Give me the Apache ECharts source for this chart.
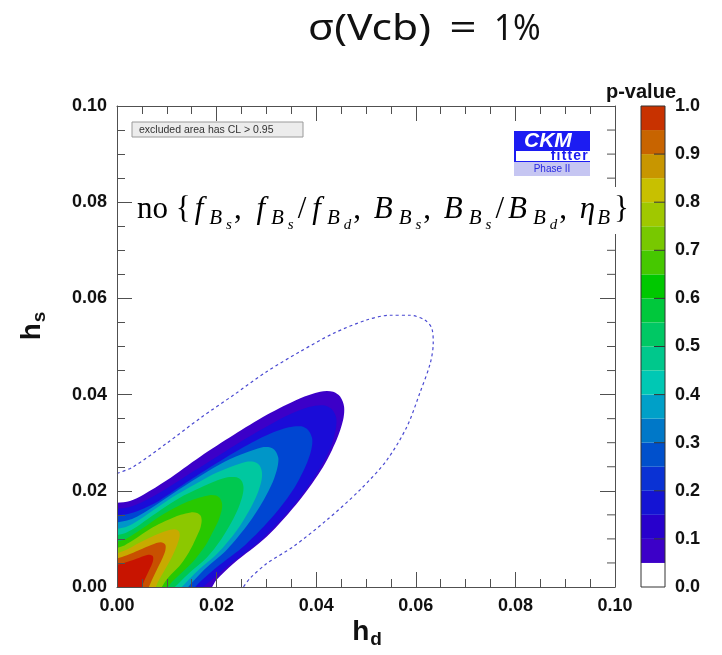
<!DOCTYPE html>
<html>
<head>
<meta charset="utf-8">
<script src="https://cdn.jsdelivr.net/npm/echarts@6/dist/echarts.min.js"></script>
<style>
html,body{margin:0;padding:0;background:#fff;}
#chart{width:722px;height:655px;}
</style>
</head>
<body>
<div id="chart"></div>
<script>
// ---------------- data ----------------
const hdRange = [0, 0.10];
const hsRange = [0, 0.10];
const pRange = [0, 1];
const hsMinorTicks = [0.005,0.010,0.015,0.025,0.030,0.035,0.045,0.050,0.055,0.065,0.070,0.075,0.085,0.090,0.095];
const pTicks = [0.1,0.2,0.3,0.4,0.5,0.6,0.7,0.8,0.9];

// p-value levels of the filled contours (each region is p >= level)
const pLevels = [0.05, 0.10, 0.20, 0.30, 0.40, 0.50, 0.60, 0.70, 0.80, 0.90, 0.95];

// contour boundaries [h_d, h_s], from the left axis round to the bottom axis
const contourP005 = [[0,0.0175],[0.0026,0.0179],[0.0053,0.0192],[0.0100,0.0222],[0.0167,0.0271],[0.0234,0.0316],[0.0301,0.0358],[0.0367,0.0392],[0.0408,0.0406],[0.0434,0.0406],[0.0448,0.0396],[0.0456,0.0375],[0.0454,0.0347],[0.0441,0.0306],[0.0414,0.0250],[0.0367,0.0181],[0.0301,0.0105],[0.0234,0.0049],[0.0200,0.0015],[0.0191,0]];
const contourP010 = [[0,0.0163],[0.0024,0.0166],[0.0050,0.0176],[0.0094,0.0201],[0.0156,0.0242],[0.0219,0.0283],[0.0281,0.0322],[0.0343,0.0357],[0.0385,0.0374],[0.0413,0.0378],[0.0430,0.0371],[0.0440,0.0353],[0.0439,0.0326],[0.0428,0.0288],[0.0401,0.0236],[0.0355,0.0170],[0.0290,0.0099],[0.0225,0.0046],[0.0189,0.0014],[0.0173,0]];
const contourP020 = [[0,0.0149],[0.0022,0.0152],[0.0044,0.0159],[0.0084,0.0179],[0.0139,0.0217],[0.0195,0.0254],[0.0251,0.0289],[0.0306,0.0318],[0.0345,0.0332],[0.0370,0.0334],[0.0384,0.0326],[0.0392,0.0308],[0.0390,0.0285],[0.0379,0.0252],[0.0356,0.0206],[0.0315,0.0149],[0.0258,0.0088],[0.0200,0.0041],[0.0169,0.0013],[0.0157,0]];
const contourP030 = [[0,0.0134],[0.0020,0.0138],[0.0040,0.0146],[0.0076,0.0169],[0.0125,0.0203],[0.0172,0.0234],[0.0217,0.0261],[0.0261,0.0280],[0.0290,0.0290],[0.0308,0.0290],[0.0318,0.0283],[0.0324,0.0268],[0.0322,0.0248],[0.0313,0.0219],[0.0294,0.0180],[0.0264,0.0132],[0.0221,0.0078],[0.0176,0.0037],[0.0152,0.0011],[0.0143,0]];
const contourP040 = [[0,0.0121],[0.0018,0.0125],[0.0036,0.0134],[0.0069,0.0157],[0.0112,0.0187],[0.0154,0.0212],[0.0192,0.0234],[0.0229,0.0250],[0.0258,0.0260],[0.0276,0.0260],[0.0286,0.0253],[0.0291,0.0239],[0.0290,0.0221],[0.0282,0.0194],[0.0265,0.0158],[0.0240,0.0117],[0.0202,0.0070],[0.0161,0.0033],[0.0139,0.0010],[0.0130,0]];
const contourP050 = [[0,0.0108],[0.0016,0.0112],[0.0033,0.0121],[0.0061,0.0141],[0.0099,0.0168],[0.0134,0.0190],[0.0166,0.0206],[0.0197,0.0220],[0.0222,0.0228],[0.0240,0.0228],[0.0250,0.0221],[0.0254,0.0208],[0.0252,0.0190],[0.0244,0.0165],[0.0229,0.0133],[0.0209,0.0099],[0.0180,0.0061],[0.0146,0.0030],[0.0125,0.0009],[0.0116,0]];
const contourP060 = [[0,0.0094],[0.0014,0.0098],[0.0028,0.0106],[0.0053,0.0123],[0.0085,0.0146],[0.0115,0.0164],[0.0141,0.0177],[0.0166,0.0186],[0.0186,0.0191],[0.0199,0.0190],[0.0207,0.0184],[0.0211,0.0173],[0.0210,0.0159],[0.0204,0.0139],[0.0192,0.0114],[0.0178,0.0087],[0.0153,0.0053],[0.0126,0.0026],[0.0108,0.0008],[0.0102,0]];
const contourP070 = [[0,0.0081],[0.0012,0.0085],[0.0024,0.0092],[0.0045,0.0106],[0.0072,0.0124],[0.0097,0.0137],[0.0128,0.0150],[0.0148,0.0155],[0.0161,0.0154],[0.0168,0.0148],[0.0170,0.0138],[0.0168,0.0125],[0.0162,0.0109],[0.0153,0.0089],[0.0142,0.0068],[0.0125,0.0043],[0.0104,0.0021],[0.0094,0.0007],[0.0090,0]];
const contourP080 = [[0,0.0070],[0.0020,0.0078],[0.0045,0.0092],[0.0075,0.0107],[0.0100,0.0117],[0.0115,0.0120],[0.0124,0.0116],[0.0126,0.0106],[0.0121,0.0088],[0.0110,0.0062],[0.0095,0.0034],[0.0083,0.0012],[0.0078,0]];
const contourP090 = [[0,0.0059],[0.0020,0.0066],[0.0045,0.0077],[0.0070,0.0088],[0.0088,0.0093],[0.0097,0.0088],[0.0097,0.0076],[0.0090,0.0057],[0.0079,0.0034],[0.0069,0.0012],[0.0064,0]];
const contourP095 = [[0,0.0046],[0.0020,0.0052],[0.0045,0.0061],[0.0063,0.0067],[0.0072,0.0064],[0.0072,0.0053],[0.0065,0.0036],[0.0056,0.0016],[0.0050,0]];

// dashed contour
const dashedContour = [[0,0.0236],[0.0033,0.0250],[0.0100,0.0299],[0.0167,0.0351],[0.0234,0.0399],[0.0301,0.0448],[0.0367,0.0489],[0.0434,0.0527],[0.0501,0.0555],[0.0548,0.0565],[0.0588,0.0565],[0.0618,0.0555],[0.0632,0.0538],[0.0635,0.0507],[0.0629,0.0465],[0.0608,0.0403],[0.0582,0.0333],[0.0542,0.0264],[0.0488,0.0202],[0.0421,0.0139],[0.0354,0.0084],[0.0301,0.0049],[0.0267,0.0018],[0.0254,0]];

// colour-bar band edges
const cbEdges = [0,0.05,0.10,0.15,0.20,0.25,0.30,0.35,0.40,0.45,0.50,0.55,0.60,0.65,0.70,0.75,0.80,0.85,0.90,0.95,1.00];

// ---------------- styles ----------------
const bandColors = ['#3c00c8','#1a0cd8','#0046d2','#0096c8','#00c8a0','#00c850','#28c800','#8cc800','#c8aa00','#c85000','#c81400'];
const cbColors = ['#ffffff','#3c00c8','#2800cc','#1414d4','#0a32d4','#0050cc','#0078c8','#00a0c8','#00c8b4','#00c88c','#00c864','#00c83c','#00c800','#46c800','#78c800','#a0c800','#c8c000','#c89600','#c86400','#c83200'];

const contours = [contourP005, contourP010, contourP020, contourP030, contourP040, contourP050, contourP060, contourP070, contourP080, contourP090, contourP095];

const axisColor = '#505050';
const labelFont = {fontFamily:'Liberation Sans', fontWeight:'bold', fontSize:18, color:'#111'};

function mkAxis(kind, pos, interval, tickLen, showLine, showLabel){
  const range = kind === 'x' ? hdRange : hsRange;
  return {
    gridIndex:0, type:'value', min:range[0], max:range[1], interval:interval, position:pos, z:5,
    axisLine:{show:showLine, onZero:false, lineStyle:{color:axisColor, width:1}},
    axisTick:{show:true, inside:true, length:tickLen, lineStyle:{color:axisColor, width:1}},
    splitLine:{show:false},
    axisLabel: showLabel ? Object.assign({show:true, margin:10, showMinLabel:true, showMaxLabel:true, formatter:v=>v.toFixed(2)}, labelFont) : {show:false}
  };
}

const chart = echarts.init(document.getElementById('chart'), null, {renderer:'canvas'});

const serif = 'Liberation Serif';
const mathRich = {
  rm:{fontFamily:serif, fontSize:31, fill:'#000'},
  cm:{fontFamily:serif, fontSize:31, fill:'#000', padding:[0,3,0,0]},
  sl:{fontFamily:serif, fontSize:31, fill:'#000', padding:[0,2,0,2]},
  fi:{fontFamily:serif, fontStyle:'italic', fontSize:31, fill:'#000', padding:[0,6,0,4]},
  bi:{fontFamily:serif, fontStyle:'italic', fontSize:31, fill:'#000', padding:[0,6,0,2]},
  eta:{fontFamily:serif, fontStyle:'italic', fontSize:31, fill:'#000', padding:[0,2,0,2]},
  sub:{fontFamily:serif, fontStyle:'italic', fontSize:21, fill:'#000', padding:[16,4,0,0]},
  ss:{fontFamily:serif, fontStyle:'italic', fontSize:15, fill:'#000', padding:[30,2,0,0]}
};
const fBs = '{fi|f}{sub|B}{ss|s}';
const fBd = '{fi|f}{sub|B}{ss|d}';
const BBs = '{bi|B}{sub|B}{ss|s}';
const BBd = '{bi|B}{sub|B}{ss|d}';
const comma = '{cm|, }';
const slash = '{sl|/}';
const mathText = '{rm|no {}' + fBs + comma + fBs + slash + fBd + comma + BBs + comma + BBs + slash + BBd + comma + '{eta|η}{sub|B}}';

const subRich = {
  h:{fontFamily:'Liberation Sans', fontWeight:'bold', fontSize:28, fill:'#111'},
  d:{fontFamily:'Liberation Sans', fontWeight:'bold', fontSize:19, fill:'#111', padding:[16,0,0,1]}
};

const option = {
  animation:false,
  backgroundColor:'#ffffff',
  grid:[
    {left:117, top:106, width:498, height:481, show:false},
    {left:641, top:106, width:24, height:481, show:false}
  ],
  xAxis:[
    mkAxis('x','bottom',0.02,15,true,true),
    mkAxis('x','top',0.02,15,true,false),
    mkAxis('x','bottom',0.005,8,false,false),
    mkAxis('x','top',0.005,8,false,false),
    {gridIndex:1, type:'value', min:0, max:1, show:false}
  ],
  yAxis:[
    mkAxis('y','left',0.02,15,true,true),
    mkAxis('y','right',0.02,15,true,false),
    mkAxis('y','left',0.005,8,false,false),
    {gridIndex:1, type:'value', min:pRange[0], max:pRange[1], interval:0.1, position:'right', z:7,
     axisLine:{show:false, onZero:false},
     axisTick:{show:false},
     splitLine:{show:false},
     axisLabel:Object.assign({show:true, margin:10, showMinLabel:true, showMaxLabel:true, formatter:v=>v.toFixed(1)}, labelFont)}
  ],
  series:[
    {
      type:'custom', name:'p-value', xAxisIndex:0, yAxisIndex:0, z:2, silent:true,
      data: pLevels.map((p,i)=>[i,p]),
      renderItem:function(params, api){
        const i = api.value(0);
        const pts = contours[i].map(pt=>api.coord(pt));
        const n = pts.length;
        const ext = (a,b)=>{const dx=a[0]-b[0], dy=a[1]-b[1]; const L=Math.hypot(dx,dy)||1; return [a[0]+dx/L*25, a[1]+dy/L*25];};
        const cs = params.coordSys;
        const poly = [ext(pts[0],pts[1])].concat(pts, [ext(pts[n-1],pts[n-2]), [cs.x-50, cs.y+cs.height+50]]);
        return {
          type:'polygon', shape:{points:poly, smooth:0.3},
          style:{fill:bandColors[i], stroke:null},
          clipPath:{type:'rect', shape:{x:cs.x, y:cs.y, width:cs.width, height:cs.height}}
        };
      }
    },
    {
      type:'line', name:'dashed', xAxisIndex:0, yAxisIndex:0, z:3, silent:true,
      data: dashedContour, smooth:0.3, showSymbol:false, symbol:'none',
      lineStyle:{color:'#4a4ad2', width:1.2, type:[3,3]}
    },
    {
      type:'custom', name:'right minor ticks', xAxisIndex:0, yAxisIndex:0, z:6, silent:true,
      data: hsMinorTicks.map(v=>[hdRange[1], v]),
      renderItem:function(params, api){
        const p = api.coord([api.value(0), api.value(1)]);
        return {type:'line', shape:{x1:p[0], y1:p[1], x2:p[0]-8, y2:p[1]}, style:{stroke:axisColor, lineWidth:1}};
      }
    },
    {
      type:'custom', name:'colorbar', xAxisIndex:4, yAxisIndex:3, z:2, silent:true,
      data: cbColors.map((c,i)=>[cbEdges[i], cbEdges[i+1]]),
      renderItem:function(params, api){
        const p1 = api.coord([0, api.value(0)]);
        const p2 = api.coord([1, api.value(1)]);
        return {type:'rect', shape:{x:p1[0], y:p2[1], width:p2[0]-p1[0], height:p1[1]-p2[1]},
                style:{fill:cbColors[params.dataIndex], stroke:null}};
      }
    },
    {
      type:'custom', name:'colorbar ticks', xAxisIndex:4, yAxisIndex:3, z:6, silent:true,
      data: pTicks.map(v=>[1, v]),
      renderItem:function(params, api){
        const p = api.coord([api.value(0), api.value(1)]);
        return {type:'line', shape:{x1:p[0], y1:p[1], x2:p[0]-11, y2:p[1]}, style:{stroke:'#333', lineWidth:1}};
      }
    },
    {
      type:'custom', name:'colorbar frame', xAxisIndex:4, yAxisIndex:3, z:6, silent:true,
      data:[[0]],
      renderItem:function(params, api){
        const cs = params.coordSys;
        return {type:'rect', shape:{x:cs.x, y:cs.y, width:cs.width, height:cs.height},
                style:{fill:null, stroke:'#333', lineWidth:1}};
      }
    }
  ],
  graphic:[
    {type:'text', z:100, x:308, y:29, scaleX:1.15, style:{text:'σ(Vcb)', fontFamily:'Noto Sans', fontSize:37, fill:'#111', align:'left', verticalAlign:'middle'}},
    {type:'text', z:100, x:463, y:29, scaleX:1.3, style:{text:'=', fontFamily:'Noto Sans', fontSize:37, fill:'#111', align:'center', verticalAlign:'middle'}},
    {type:'text', z:100, x:494, y:29, scaleX:0.9, style:{text:'1%', fontFamily:'Noto Sans', fontSize:37, fill:'#111', align:'left', verticalAlign:'middle'}},
    {type:'rect', z:100, shape:{x:132, y:122, width:171, height:15}, style:{fill:'#ececec', stroke:'#9a9a9a', lineWidth:1}},
    {type:'text', z:101, x:139, y:130, style:{text:'excluded area has CL > 0.95', fontFamily:'Liberation Sans', fontSize:10.5, fill:'#333', verticalAlign:'middle'}},
    {type:'rect', z:100, shape:{x:514, y:131, width:76, height:31}, style:{fill:'#1c1cf2'}},
    {type:'text', z:101, x:524, y:141, style:{text:'CKM', fontFamily:'Liberation Sans', fontWeight:'bold', fontStyle:'italic', fontSize:21, fill:'#fff', verticalAlign:'middle'}},
    {type:'rect', z:101, shape:{x:516, y:151, width:74, height:10}, style:{fill:'#fff'}},
    {type:'text', z:102, x:589, y:156.5, style:{text:'{l|f}{l|i}{l|t}{l|t}{l|e}{l|r}', rich:{l:{fontFamily:'Liberation Sans', fontWeight:'bold', fontSize:14, fill:'#1c1cf2', padding:[0,1.2,0,0]}}, align:'right', verticalAlign:'middle'}},
    {type:'rect', z:100, shape:{x:514, y:162, width:76, height:14}, style:{fill:'#c6c6f2'}},
    {type:'text', z:101, x:552, y:169, style:{text:'Phase II', fontFamily:'Liberation Sans', fontSize:10, fill:'#2828e0', align:'center', verticalAlign:'middle'}},
    {type:'rect', z:100, shape:{x:134, y:187, width:502, height:47}, style:{fill:'#fff'}},
    {type:'text', z:101, x:137, y:210, style:{text:mathText, rich:mathRich, fontFamily:serif, fontSize:31, fill:'#000', verticalAlign:'middle'}},
    {type:'text', z:100, x:367, y:632, style:{text:'{h|h}{d|d}', rich:subRich, align:'center', verticalAlign:'middle'}},
    {type:'text', z:100, x:32, y:326, rotation:Math.PI/2, style:{text:'{h|h}{d|s}', rich:subRich, align:'center', verticalAlign:'middle'}},
    {type:'text', z:100, x:641, y:92, style:{text:'p-value', fontFamily:'Liberation Sans', fontWeight:'bold', fontSize:20, fill:'#111', align:'center', verticalAlign:'middle'}}
  ]
};
chart.setOption(option);
</script>
</body>
</html>
